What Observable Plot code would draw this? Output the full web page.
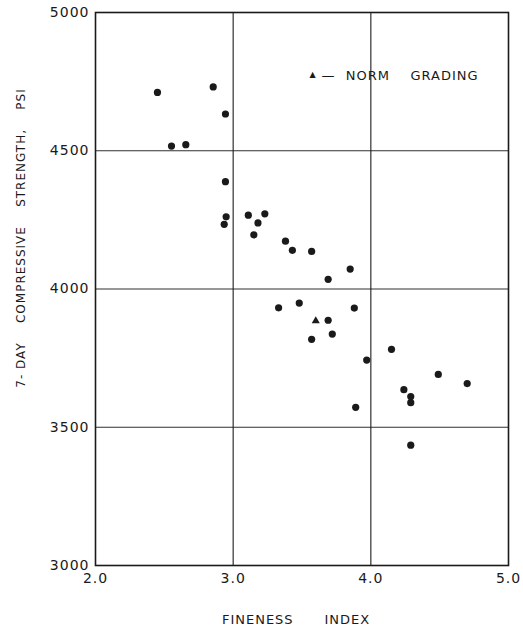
<!DOCTYPE html>
<html>
<head>
<meta charset="utf-8">
<script src="https://cdn.jsdelivr.net/npm/d3@7"></script>
<script src="https://cdn.jsdelivr.net/npm/@observablehq/plot@0.6"></script>
<style>
  html, body { margin: 0; padding: 0; background: #fff; }
  #chart svg { display: block; }
  #chart svg text { letter-spacing: 1px; }
</style>
</head>
<body>
<div id="chart"></div>
<script>
// Fineness index (x) and 7-day compressive strength in psi (y), filled dots
const finenessIndex = [2.45, 2.855, 2.944, 2.552, 2.656, 2.944, 2.949, 2.935, 3.11, 3.23, 3.18, 3.15, 3.38, 3.43, 3.57, 3.85, 3.69, 3.33, 3.48, 3.88, 3.69, 3.72, 3.57, 3.97, 4.15, 4.49, 4.70, 4.24, 4.29, 4.29, 3.89, 4.29];
const strengthPsi   = [4711, 4731, 4633, 4517, 4522, 4388, 4261, 4234, 4267, 4272, 4239, 4196, 4173, 4140, 4136, 4072, 4035, 3932, 3949, 3931, 3887, 3837, 3818, 3743, 3782, 3691, 3658, 3636, 3611, 3589, 3572, 3435];
// Norm grading (triangle)
const normFineness = [3.60];
const normStrength = [3885];

const xTicks = [2.0, 3.0, 4.0, 5.0];
const yTicks = [3000, 3500, 4000, 4500, 5000];
const xLabel = "FINENESS\u00a0\u00a0\u00a0\u00a0\u00a0\u00a0INDEX";
const yLabel = "7-\u00a0DAY\u00a0\u00a0\u00a0\u00a0COMPRESSIVE\u00a0\u00a0\u00a0\u00a0STRENGTH,\u00a0\u00a0\u00a0\u00a0PSI";
const legendText = "\u2014\u00a0\u00a0NORM\u00a0\u00a0\u00a0\u00a0GRADING";

const points = finenessIndex.map((x, i) => ({x, y: strengthPsi[i]}));
const norm = normFineness.map((x, i) => ({x, y: normStrength[i]}));

const ink = "#1a1a1a";
const chart = Plot.plot({
  width: 523,
  height: 641,
  marginLeft: 95,
  marginRight: 15,
  marginTop: 12,
  marginBottom: 76,
  style: {fontFamily: "DejaVu Sans", fontSize: "14px", color: ink, background: "#fff"},
  x: {domain: [2, 5], label: null},
  y: {domain: [3000, 5000], label: null},
  marks: [
    Plot.gridX(xTicks.slice(1, -1), {stroke: ink, strokeOpacity: 0.9, strokeWidth: 1.2}),
    Plot.gridY(yTicks.slice(1, -1), {stroke: ink, strokeOpacity: 0.9, strokeWidth: 1.2}),
    Plot.frame({stroke: ink, strokeWidth: 1.6}),
    Plot.axisX({ticks: xTicks, tickFormat: d3.format(".1f"), tickSize: 0, tickPadding: 8, label: null, fontSize: 14}),
    Plot.axisY({ticks: yTicks, tickFormat: d => String(d), tickSize: 0, tickPadding: 6, label: null, fontSize: 14}),
    Plot.dot(points, {x: "x", y: "y", r: 3.6, fill: ink, stroke: "none"}),
    Plot.dot(norm, {x: "x", y: "y", symbol: "triangle", r: 3, fill: ink, stroke: "none"}),
    Plot.text([xLabel], {text: d => d, frameAnchor: "bottom", dy: 58, dx: -6, fontSize: 13, fill: ink}),
    Plot.text([yLabel], {text: d => d, frameAnchor: "left", textAnchor: "middle", rotate: -90, dx: -74, dy: -51, fontSize: 12, fill: ink}),
    Plot.text(["\u25b2"], {text: d => d, frameAnchor: "top-left", dx: 214, dy: 59, fontSize: 8, fill: ink}),
    Plot.text([legendText], {text: d => d, frameAnchor: "top-left", dx: 226, dy: 58, textAnchor: "start", fontSize: 13, fill: ink})
  ]
});
document.getElementById("chart").appendChild(chart);
</script>
</body>
</html>
